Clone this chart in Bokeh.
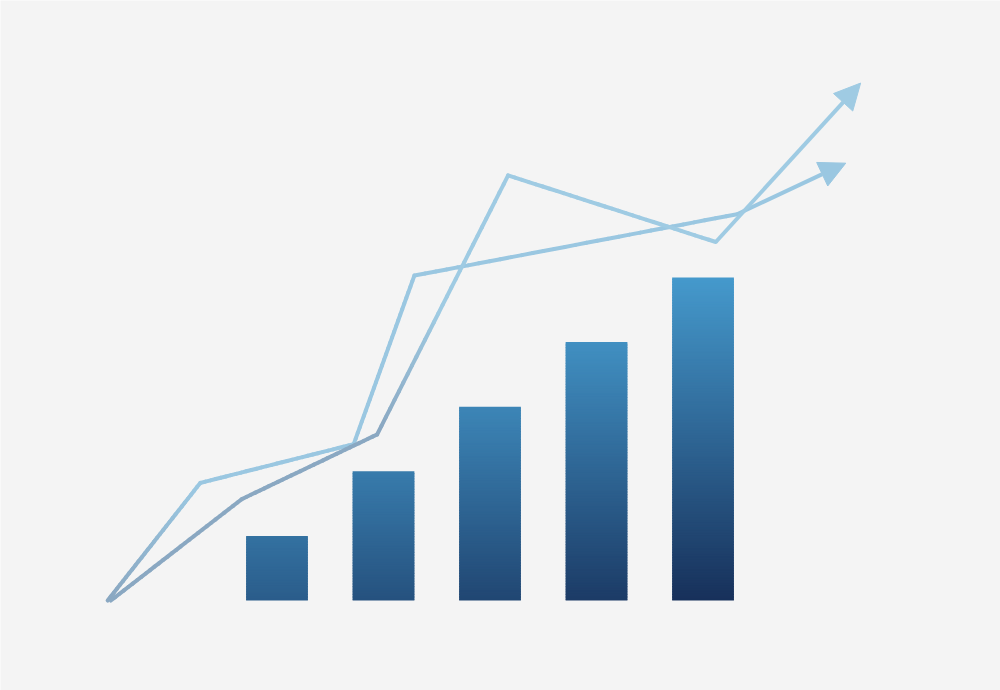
import re
import numpy as np
from bokeh.plotting import figure
from bokeh.models import ColumnDataSource, Range1d, Arrow, NormalHead
from bokeh.embed import file_html
from bokeh.resources import INLINE

# ---------------- data ----------------
bar_x = [1, 2, 3, 4, 5]
bar_values = [1.0, 2.0, 3.0, 4.0, 5.0]

line_a_x = [-0.59, 0.28, 1.72, 2.29, 5.32, 6.34]
line_a_y = [0.0, 1.82, 2.42, 5.03, 5.98, 6.77]

line_b_x = [-0.56, 0.67, 1.94, 3.17, 5.12, 6.48]
line_b_y = [0.0, 1.57, 2.57, 6.58, 5.55, 8.01]

# ---------------- style ----------------
BG = "#f4f4f4"
W, H = 1000, 690
BAR_W = 0.58
DARK = (23, 48, 90)
LIGHT = (69, 153, 204)
LINE_GREY = (138, 168, 194)
LINE_A_LIGHT = (154, 199, 225)
LINE_B_LIGHT = (159, 203, 227)


def mix(c1, c2, t):
    t = float(min(max(t, 0.0), 1.0))
    r, g, b = (int(round(a + (b_ - a) * t)) for a, b_ in zip(c1, c2))
    return "#%02x%02x%02x" % (r, g, b)


p = figure(width=W, height=H,
           x_range=Range1d(-1.596, 7.793), y_range=Range1d(-1.393, 9.288),
           output_backend="svg", toolbar_location=None, min_border=0,
           x_axis_location=None, y_axis_location=None,
           background_fill_color=BG, border_fill_color=BG,
           outline_line_color=None)
p.grid.visible = False

# ---- bars with a diagonal gradient (drawn as thin horizontal slices) ----
L, R, B, T, C = [], [], [], [], []
for xc, v in zip(bar_x, bar_values):
    n = int(round(v * 40))
    h = v / n
    for k in range(n):
        bot = max(0.0, (k - 0.6) * h)
        top = (k + 1) * h
        ymid = (k + 0.5) * h
        t = ymid / 5.0 + 0.42 * (5 - xc) / 4.0
        L.append(xc - BAR_W / 2)
        R.append(xc + BAR_W / 2)
        B.append(bot)
        T.append(top)
        C.append(mix(DARK, LIGHT, t))
p.quad(left="left", right="right", bottom="bottom", top="top", fill_color="color",
       line_color=None,
       source=ColumnDataSource(dict(left=L, right=R, bottom=B, top=T, color=C)))


# ---- lines with a soft colour gradient ----
def gradient_segments(xs, ys, light, tfun, steps=30):
    x0s, y0s, x1s, y1s, cols = [], [], [], [], []
    for i in range(len(xs) - 1):
        for s in range(steps):
            a = s / steps
            b = (s + 1) / steps
            xa = xs[i] + (xs[i + 1] - xs[i]) * a
            ya = ys[i] + (ys[i + 1] - ys[i]) * a
            xb = xs[i] + (xs[i + 1] - xs[i]) * b
            yb = ys[i] + (ys[i + 1] - ys[i]) * b
            x0s.append(xa); y0s.append(ya); x1s.append(xb); y1s.append(yb)
            cols.append(mix(LINE_GREY, light, tfun((ya + yb) / 2)))
    return ColumnDataSource(dict(x0=x0s, y0=y0s, x1=x1s, y1=y1s, c=cols))


src_a = gradient_segments(line_a_x[:-1], line_a_y[:-1], LINE_A_LIGHT,
                          lambda y: (y - 0.1) / 1.6)
src_b = gradient_segments(line_b_x[:-1], line_b_y[:-1], LINE_B_LIGHT,
                          lambda y: (y - 2.7) / 1.8)

for src in (src_a, src_b):
    p.segment(x0="x0", y0="y0", x1="x1", y1="y1", line_color="c",
              line_width=4, line_cap="round", source=src)

for xs, ys, light in ((line_a_x, line_a_y, LINE_A_LIGHT),
                      (line_b_x, line_b_y, LINE_B_LIGHT)):
    col = mix(light, light, 0)
    p.add_layout(Arrow(x_start=xs[-2], y_start=ys[-2], x_end=xs[-1], y_end=ys[-1],
                       line_color=col, line_width=4,
                       end=NormalHead(size=26, fill_color=col, line_color=col,
                                      line_width=1)))

html = file_html(p, INLINE)
html = re.sub(r"<body([^>]*)>",
              r'<body\1 style="margin:0;padding:0;overflow:hidden;background-color:#f4f4f4;">',
              html, count=1)
open("out.html", "w").write(html)
